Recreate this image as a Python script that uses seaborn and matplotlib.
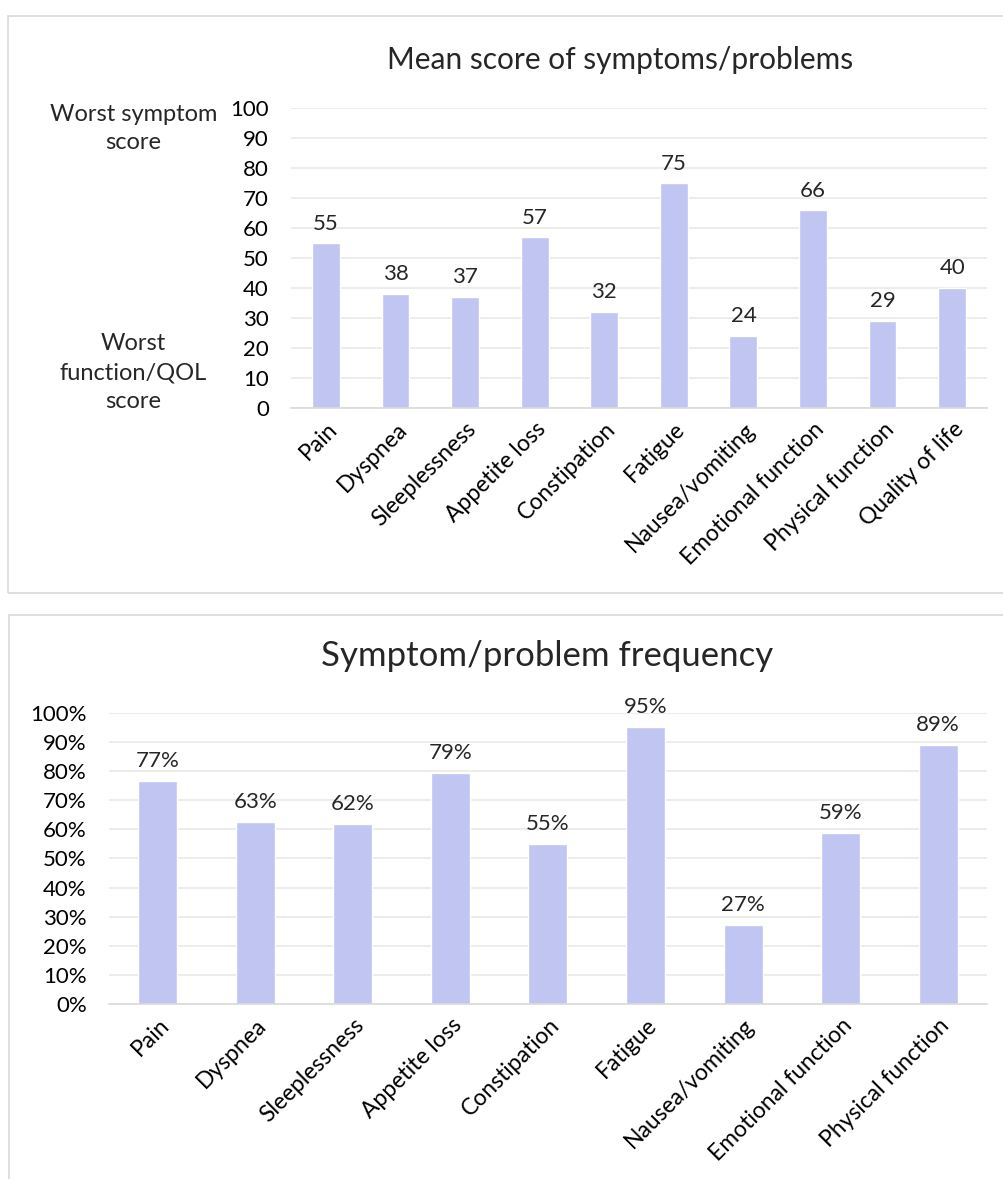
import numpy as np
import pandas as pd
import matplotlib
matplotlib.use('Agg')
import matplotlib.pyplot as plt
import matplotlib.patches as patches
import matplotlib.transforms as mtransforms
import seaborn as sns

# data
score_labels = ['Pain', 'Dyspnea', 'Sleeplessness', 'Appetite loss', 'Constipation',
                'Fatigue', 'Nausea/vomiting', 'Emotional function', 'Physical function',
                'Quality of life']
score_values = [55, 38, 37, 57, 32, 75, 24, 66, 29, 40]

freq_labels = ['Pain', 'Dyspnea', 'Sleeplessness', 'Appetite loss', 'Constipation',
               'Fatigue', 'Nausea/vomiting', 'Emotional function', 'Physical function']
freq_values = [0.766, 0.627, 0.619, 0.794, 0.551, 0.951, 0.272, 0.588, 0.890]

bar_color = '#c0c5f2'
grid_color = '#e9e9e9'

sns.set_style('white')
plt.rcParams['font.family'] = ['Lato', 'DejaVu Sans']

fig = plt.figure(figsize=(10.04, 11.79), dpi=100)
W, H = 1004, 1179

# panel borders
for (x0, y0, x1, y1) in [(8, 16, 1010, 593), (9, 615, 1010, 1190)]:
    fig.patches.append(patches.Rectangle((x0 / W, 1 - y1 / H), (x1 - x0) / W, (y1 - y0) / H,
                                         transform=fig.transFigure, fill=False,
                                         edgecolor='#d9d9d9', lw=1.2))

shift = mtransforms.ScaledTranslation(8 / 100, 0, fig.dpi_scale_trans)


def style_axis(ax):
    sns.despine(ax=ax, left=True, top=True, right=True)
    ax.spines['bottom'].set_color('#d9d9d9')
    ax.spines['bottom'].set_linewidth(1.2)
    ax.grid(axis='y', color=grid_color, lw=1.2)
    ax.set_axisbelow(True)
    ax.tick_params(axis='both', length=0, colors='black')
    ax.tick_params(axis='y', pad=16, labelsize=16)
    ax.tick_params(axis='x', pad=13, labelsize=16.5)
    ax.set_xlabel('')
    ax.set_ylabel('')
    for lab in ax.get_xticklabels():
        lab.set_rotation(45)
        lab.set_ha('right')
        lab.set_va('center')
        lab.set_rotation_mode('anchor')
        lab.set_transform(lab.get_transform() + shift)


# top chart
ax1 = fig.add_axes([0.290, 0.654, 0.693, 0.254])
df1 = pd.DataFrame({'item': score_labels, 'score': score_values})
sns.barplot(data=df1, x='item', y='score', color=bar_color, width=0.4, ax=ax1,
            saturation=1)
ax1.set_ylim(0, 100)
ax1.set_yticks(np.arange(0, 101, 10))
style_axis(ax1)
ax1.bar_label(ax1.containers[0], labels=[str(v) for v in score_values],
              padding=7, fontsize=16)
fig.text(0.618, 0.949, 'Mean score of symptoms/problems', ha='center', va='center',
         fontsize=21.5)
fig.text(0.133, 0.891, 'Worst symptom\nscore', ha='center', va='center',
         fontsize=17, linespacing=1.45)
fig.text(0.133, 0.684, 'Worst\nfunction/QOL\nscore', ha='center', va='center',
         fontsize=17, linespacing=1.45)

# bottom chart
ax2 = fig.add_axes([0.1086, 0.1484, 0.8744, 0.2469])
df2 = pd.DataFrame({'item': freq_labels, 'freq': freq_values})
sns.barplot(data=df2, x='item', y='freq', color=bar_color, width=0.4, ax=ax2,
            saturation=1)
ax2.set_ylim(0, 1)
ax2.set_yticks(np.arange(0, 1.01, 0.1))
ax2.set_yticklabels([f'{int(round(t * 100))}%' for t in np.arange(0, 1.01, 0.1)])
style_axis(ax2)
ax2.bar_label(ax2.containers[0], labels=[f'{v * 100:.0f}%' for v in freq_values],
              padding=7, fontsize=16)
fig.text(0.545, 0.4436, 'Symptom/problem frequency', ha='center', va='center',
         fontsize=25)

fig.savefig('out.png', dpi=100)
